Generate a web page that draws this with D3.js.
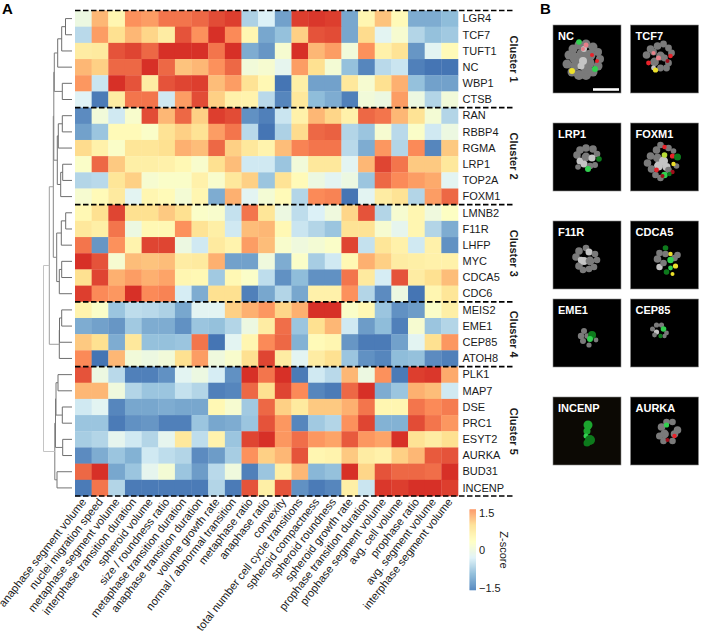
<!DOCTYPE html>
<html>
<head>
<meta charset="utf-8">
<script src="https://cdn.jsdelivr.net/npm/d3@7"></script>
<style>
  html, body { margin: 0; padding: 0; background: #fff; }
  text { font-family: "Liberation Sans", Arial, sans-serif; fill: #1a1a1a; }
</style>
</head>
<body>
<div id="chart"></div>
<script>
const geneLabels = ["LGR4","TCF7","TUFT1","NC","WBP1","CTSB","RAN","RBBP4","RGMA","LRP1","TOP2A","FOXM1",
  "LMNB2","F11R","LHFP","MYC","CDCA5","CDC6","MEIS2","EME1","CEP85","ATOH8",
  "PLK1","MAP7","DSE","PRC1","ESYT2","AURKA","BUD31","INCENP"];

const featureLabels = ["anaphase segment volume","nuclei migration speed","metaphase segment volume",
  "interphase transition duration","spheroid volume","size / roundness ratio","metaphase transition duration",
  "anaphase transition duration","volume growth rate","normal / abnormal transition","metaphase ratio",
  "anaphase ratio","convexity","total number cell cycle transitions","spheroid compactness","spheroid roundness",
  "spheroid growth rate","prophase transition duration","prophase segment volume","avg. cell volume",
  "prophase ratio","avg. segment volume","interphase segment volume"];

const clusterNames = ["Cluster 1","Cluster 2","Cluster 3","Cluster 4","Cluster 5"];
const clusterSizes = [6, 6, 6, 4, 8];

const cluster1Values = [
  [-0.4,1.0,0.2,1.3,1.2,1.5,1.5,1.6,1.8,1.9,-1.1,-0.7,-1.6,1.9,1.95,1.9,-1.55,0.2,0.9,0.1,-1.5,-1.5,-1.35],
  [-1.0,1.2,0.65,1.0,0.75,0.4,1.75,1.3,2.0,1.35,0.2,-1.55,-1.3,0.8,1.75,1.8,-1.55,0.7,-0.6,-0.2,-1.05,-1.3,-1.2],
  [0.4,0.45,1.75,1.85,1.6,2.0,2.0,2.0,1.5,2.0,-1.5,-1.7,-0.2,2.0,1.0,1.2,-0.3,1.3,0.3,0.6,-1.7,-0.6,0.1],
  [1.0,0.8,1.6,1.6,2.0,1.6,0.9,1.0,1.3,1.6,-0.3,-0.2,-0.55,1.2,0.65,-0.25,-1.3,-1.85,-1.0,-0.85,-1.9,-2.0,-2.0],
  [1.25,-0.85,2.0,1.75,0.4,1.75,1.85,1.9,0.95,1.2,0.6,0.15,-2.0,0.35,-1.6,-1.6,0.5,-0.2,0.65,1.05,-1.3,-1.6,-1.6],
  [-0.65,-1.95,0.4,1.5,1.5,-0.8,1.2,1.8,0.8,0.3,0.25,-1.0,-1.85,0.5,-1.35,-1.5,-1.9,-0.3,-0.4,1.2,-0.4,-1.05,-0.3]
];
const cluster2Values = [
  [-1.8,-0.3,-0.8,-0.15,1.8,1.0,1.6,0.8,1.9,1.8,-1.75,-1.9,-0.85,0.3,1.0,0.75,0.3,1.6,1.5,1.0,0.6,-0.25,-1.05],
  [-1.6,-1.25,0.1,0.1,-0.1,0.6,0.8,0.6,1.2,1.5,-1.0,-2.0,-1.1,0.7,1.6,1.65,-1.05,-1.25,-0.2,-1.0,-0.1,-0.8,-0.4],
  [0.7,0.3,-0.1,0.55,0.55,0.65,1.05,0.95,1.6,0.8,0.5,0.25,0.95,1.4,1.5,1.5,-1.0,-1.5,1.25,-1.05,1.35,-1.85,0.85],
  [-0.1,1.6,0.85,0.35,0.35,0.3,0.15,-0.15,0.65,0.95,-0.8,-0.8,-1.25,-0.3,0.5,0.5,-0.6,1.0,1.85,1.5,0.85,0.85,0.5],
  [-1.05,-1.0,0.55,0.8,-0.2,-0.1,-0.1,0.3,-0.15,0.5,0.8,-1.25,0.6,0.1,-0.4,-0.6,-0.4,-1.25,1.6,1.35,1.2,1.1,-0.6],
  [-0.2,0.1,0.45,-0.6,0.2,0.1,-0.25,0.2,-1.5,1.05,-0.6,-0.25,0.1,-1.05,1.35,1.4,-2.0,-0.6,0.4,0.6,-1.05,1.2,1.6]
];
const cluster3Values = [
  [0.15,0.65,1.85,0.65,0.65,0.85,0.65,-0.1,-0.15,-0.9,1.5,0.55,-0.4,-0.95,-0.7,-0.35,0.75,1.75,-1.05,-0.2,0.2,-0.35,-0.05],
  [0.5,0.35,1.5,-0.4,0.15,0.15,1.3,0.6,0.35,-0.8,0.95,1.0,0.15,-0.85,-1.05,-1.25,0.6,0.6,-0.2,-0.55,0.2,-1.05,-1.5],
  [1.5,-1.7,1.3,0.25,1.85,1.85,-0.4,-0.8,0.45,0.25,1.2,0.95,-0.15,-0.35,-0.25,-0.1,1.85,-0.9,0.55,0.3,-0.8,0.3,-1.75],
  [2.0,1.75,-0.2,0.95,0.9,0.95,0.4,0.45,1.05,-1.6,-1.6,-0.35,-1.5,-0.1,-1.15,-0.8,0.15,1.05,0.8,0.4,0.35,0.3,0.3],
  [0.65,1.85,1.05,1.2,1.05,1.15,0.2,0.15,-1.2,0.15,-0.1,-0.95,-1.75,-1.35,-1.75,-1.75,1.5,0.45,-0.75,1.75,0.4,0.65,0.95],
  [1.9,1.35,1.25,2.0,1.35,1.4,-0.75,-1.5,0.65,0.65,-1.9,-1.55,-1.05,-1.55,0.3,0.3,1.3,-1.05,-1.8,-0.4,-2.0,0.2,0.55]
];
const cluster4Values = [
  [0.25,-0.1,-1.25,-0.95,-1.0,-1.1,-1.55,-0.6,-0.6,0.8,1.05,1.25,0.75,1.05,2.0,2.0,-0.1,0.15,-1.25,-1.75,-1.65,-0.1,0.35],
  [-1.5,-1.6,-1.7,-1.2,-1.5,-1.5,-1.75,-1.25,-1.3,-1.05,-0.4,0.4,1.55,-1.25,0.65,1.0,-0.8,-1.65,-1.35,-1.9,-0.2,-1.25,-1.05],
  [0.85,0.65,-1.5,0.5,-1.3,-1.3,-1.25,1.5,-2.0,-0.6,0.2,1.35,1.6,-1.45,0.1,0.2,-1.7,-1.95,-1.95,-1.6,-0.6,0.65,1.25],
  [1.35,-2.0,1.0,-0.3,-0.4,-0.3,0.65,1.2,-0.35,-0.15,0.65,1.85,0.4,-0.6,0.4,0.65,-1.25,-1.75,-1.85,-1.35,-1.3,-1.8,-1.9]
];
const cluster5Values = [
  [1.75,-0.4,-1.0,-1.9,-1.9,-1.75,-0.6,-0.4,-0.75,-1.75,2.0,1.5,2.0,-1.95,-0.8,-1.0,1.0,-0.4,1.3,-1.95,1.9,1.95,1.1],
  [1.0,1.0,-0.35,-1.05,-1.25,-1.25,-0.9,-1.05,-1.9,-1.85,1.6,0.65,1.85,1.35,-1.85,-1.95,1.6,2.0,-1.5,-1.25,1.05,0.95,-0.8],
  [-0.8,-0.6,-1.85,-1.55,-1.55,-1.5,-1.55,-1.55,0.15,-0.2,-1.2,1.6,0.8,0.45,0.85,0.85,1.05,1.5,0.2,0.2,1.5,1.35,1.45],
  [-1.25,-1.25,-1.95,-1.75,-1.7,-1.9,-1.9,-1.25,-1.55,-1.5,-1.25,1.75,1.25,-1.85,-1.2,-1.05,1.3,1.85,-1.45,-1.45,1.8,1.5,1.25],
  [-1.15,-1.05,-0.55,-0.8,-1.05,-0.55,0.5,-0.95,0.25,-1.25,1.85,2.0,1.25,1.55,1.25,1.15,1.7,1.25,1.15,2.0,0.6,0.4,0.65],
  [-1.8,-1.5,-1.25,-1.45,-0.8,-0.95,-1.05,-1.8,-1.65,-1.15,1.3,0.8,1.0,1.75,0.2,0.25,0.85,0.4,0.3,0.8,1.0,1.7,1.75],
  [1.6,2.0,-1.55,-1.25,-0.55,-0.25,-1.25,-1.65,-1.0,-0.35,-1.9,-1.25,0.35,1.0,-1.4,-1.3,2.0,0.75,1.75,1.6,1.6,1.55,2.0],
  [-1.95,1.5,-1.05,-1.95,-1.95,-1.95,-1.95,-1.95,-1.05,-1.95,1.75,0.35,1.75,-1.75,-1.95,-1.85,0.35,-0.85,1.95,1.9,2.0,2.0,1.9]
];
const heatValues = [...cluster1Values, ...cluster2Values, ...cluster3Values, ...cluster4Values, ...cluster5Values];

// dendrogram merges: [merge height, left, right], numbers are row indexes
const dendroC1 = [17.7, [14.3, [10.3, [6.5, 0, 1], 2], 3], [9.7, 4, 5]];
const dendroC2 = [14.7, [13.7, [9.7, 6, 7], 8], [11.3, [9.3, 9, 10], 11]];
const dendroC3 = [15.3, [10.7, [6.3, 12, 13], 14], [12.7, [10.3, 15, 16], 17]];
const dendroC4 = [12.7, [12.5, [10.3, 18, 19], 20], 21];
const dendroC5 = [17.2, [16.5, [16, [14, 22, 23], [9.7, 24, 25]], [9.3, 26, 27]], [15, 28, 29]];
const dendroTree = [28.5, [22.7, [18.7, [18.2, dendroC1, dendroC2], dendroC3], dendroC4], dendroC5];

const colorStops = ["#4575b4","#91bfdb","#e0f3f8","#ffffbf","#fee090","#fc8d59","#d73027"];
const colorDomain = [-2, -1.33, -0.67, 0, 0.67, 1.33, 2];
const legendStops = ["#5a8cc2","#91bfdb","#e0f3f8","#ffffbf","#fee090","#fc8d59"];
const legendTicks = [-1.5, 0, 1.5];

const panelNames = ["NC","TCF7","LRP1","FOXM1","F11R","CDCA5","EME1","CEP85","INCENP","AURKA"];
const panelColumn = [0, 1, 0, 1, 0, 1, 0, 1, 0, 1];
const panelTop = [25, 25, 123, 123, 221, 221, 299, 299, 397, 397];

// nuclei: [x, y, radius, kind]
const nucleiNC = [[16,30,4.5,"g"],[20,24,4.5,"g"],[26,20,4.5,"g"],[33,19,4.5,"g"],[40,22,4.5,"g"],[45,27,4,"g"],[47,34,4,"g"],[45,41,4.5,"g"],[40,47,4.5,"g"],[33,50,5,"g"],[26,50,5,"g"],[19,47,4.5,"g"],[14,39,4.5,"g"],[22,33,5.5,"g"],[29,29,5.5,"g"],[37,30,5.5,"g"],[36,38,5.5,"g"],[28,38,5.5,"g"],[22,41,5,"g"],[33,44,5,"g"],[30,36,4,"w"],[28,41,3.5,"w"],[31,24,3,"w"],[26,17,2.8,"G"],[33,20,2.5,"p"],[39,30,2,"r"],[44,36,2,"r"],[42,44,3,"G"],[19,46,3,"y"],[30,24,2,"p"]];
const nucleiTCF7 = [[16,30,3.8,"g"],[20,24,3.8,"g"],[27,21,3.8,"g"],[33,19,3.4,"g"],[38,23,3.4,"g"],[41,28,3.4,"g"],[38,38,3.4,"g"],[36,43,3.4,"g"],[30,43,3.4,"g"],[24,37,4.4,"g"],[30,31,4.4,"g"],[23,27,3.4,"g"],[34,33,3.4,"g"],[18,38,2.4,"r"],[40,31,2.3,"r"],[23,28,2,"p"],[28,33,2.5,"p"],[37,36,2,"d"],[23,43,2.4,"w"],[25,45,2.6,"y"]];
const nucleiLRP1 = [[24,32,3.8,"g"],[27,27,3.8,"g"],[33,25,3.8,"g"],[40,26,3.8,"g"],[44,31,3.3,"g"],[27,38,3.5,"w"],[33,34,4.4,"g"],[39,35,3.5,"w"],[31,41,3.5,"w"],[25,44,2.8,"g"],[42,42,3,"g"],[37,43,3.3,"g"],[35,46,3,"G"],[46,36,2.8,"D"]];
const nucleiFOXM1 = [[17,40,3.8,"g"],[20,33,3.8,"g"],[26,27,3.8,"g"],[30,22,3.3,"g"],[38,25,3.3,"g"],[43,28,2.8,"g"],[27,35,4.4,"g"],[33,38,4.5,"w"],[28,43,4.5,"w"],[36,44,4,"w"],[21,46,3.8,"g"],[25,52,3.3,"g"],[30,55,3.3,"g"],[38,47,3.3,"g"],[46,43,2.8,"g"],[34,24,2.2,"r"],[42,33,2.6,"r"],[26,47,2.4,"r"],[42,49,2.2,"d"],[47,34,3.5,"D"],[34,52,3.2,"G"],[39,51,2.2,"D"],[34,32,2.8,"Y"],[43,41,2.2,"y"],[32,53,2,"d"]];
const nucleiF11R = [[23,36,3.8,"g"],[26,30,3.8,"g"],[33,27,3.3,"g"],[36,31,3.5,"w"],[42,33,3.3,"g"],[44,39,3.3,"g"],[41,46,3.3,"g"],[36,48,3.3,"g"],[30,49,3.3,"g"],[26,45,3.8,"g"],[31,40,4,"w"],[28,39,3.2,"w"],[37,40,4.4,"g"]];
const nucleiCDCA5 = [[27,38,3.8,"g"],[29,32,3.3,"g"],[29,46,3.2,"w"],[33,42,3.3,"g"],[35,33,3.3,"g"],[47,34,3.3,"g"],[44,37,3.3,"g"],[35,27,2.8,"D"],[40,39,3.2,"G"],[40,33,2.2,"y"],[45,45,2.6,"y"],[42,53,2,"y"],[36,51,2.8,"D"],[40,47,2.4,"G"]];
const nucleiEME1 = [[31,32,3,"g"],[28,37,3.2,"g"],[30,42,3,"g"],[34,37,2.7,"g"],[36,46,2.6,"g"],[43,41,2.4,"g"],[39,36,4,"D"],[37,40,3,"G"]];
const nucleiCEP85 = [[26,26,2.6,"g"],[22,30,2.5,"g"],[26,33,2.6,"w"],[31,26,2.6,"g"],[36,34,2.4,"g"],[24,36,2.4,"g"],[34,37,2.2,"g"],[33,30,2.8,"G"],[30,37,2.2,"D"]];
const nucleiINCENP = [[35,28,4.5,"M"],[34,34,3.5,"M"],[33,39,2.5,"G"],[37,43,5,"D"],[34,46,3.5,"D"]];
const nucleiAURKA = [[31,30,3.8,"g"],[36,25,3.3,"g"],[42,25,3.3,"g"],[47,33,3.8,"g"],[44,37,3.8,"g"],[34,37,4.4,"g"],[29,39,3.5,"g"],[33,44,3.3,"g"],[42,44,3.3,"g"],[36,28,2.6,"G"],[44,39,2.2,"r"],[37,43,2,"d"]];
const panelNuclei = [nucleiNC, nucleiTCF7, nucleiLRP1, nucleiFOXM1, nucleiF11R, nucleiCDCA5, nucleiEME1, nucleiCEP85, nucleiINCENP, nucleiAURKA];
const nucleusKinds = ["g","w","G","M","D","r","p","d","y","Y"];
const nucleusColors = ["#7a7a7a","#c4c4c4","#30d050","#1fa52f","#0f7a1c","#e8222a","#e8808a","#a0101a","#ece02c","#b6dc34"];

const width = 701, height = 634;
const svg = d3.select("#chart").append("svg")
  .attr("width", width)
  .attr("height", height)
  .style("display", "block");

const defs = svg.append("defs");
defs.append("filter").attr("id", "soft")
  .append("feGaussianBlur").attr("stdDeviation", 0.6);

const x = d3.scaleBand().domain(d3.range(featureLabels.length)).range([75, 458]);
const y = d3.scaleBand().domain(d3.range(geneLabels.length)).range([10.5, 496]);
const color = d3.scaleLinear().domain(colorDomain).range(colorStops).clamp(true);

// heatmap
const rows = svg.append("g").selectAll("g")
  .data(heatValues)
  .enter()
  .append("g")
  .attr("transform", (d, i) => `translate(0,${y(i)})`);

rows.selectAll("rect")
  .data(d => d)
  .enter()
  .append("rect")
  .attr("x", (d, i) => x(i))
  .attr("width", x.bandwidth() + 0.3)
  .attr("height", y.bandwidth() + 0.3)
  .attr("fill", d => color(d));

// gene labels
svg.append("g")
  .attr("transform", "translate(458,0)")
  .call(d3.axisRight(y).tickSize(0).tickPadding(4.5).tickFormat(i => geneLabels[i]))
  .call(g => g.select(".domain").remove())
  .selectAll("text")
  .attr("dy", "0.34em")
  .style("font-size", "11px")
  .style("font-family", '"Liberation Sans", Arial, sans-serif')
  .style("fill", "#1a1a1a");

// feature labels
svg.append("g").selectAll("text")
  .data(featureLabels)
  .enter()
  .append("text")
  .attr("transform", (d, i) => `translate(${x(i) + x.bandwidth() / 2 + 3.5},502) rotate(-52)`)
  .attr("text-anchor", "end")
  .style("font-size", "11.2px")
  .text(d => d);

// cluster separators and labels
const clusterStarts = d3.cumsum([0, ...clusterSizes]);
svg.append("g").selectAll("line")
  .data(clusterStarts)
  .enter()
  .append("line")
  .attr("x1", 75)
  .attr("x2", 515)
  .attr("y1", d => d === geneLabels.length ? y.range()[1] : y(d))
  .attr("y2", d => d === geneLabels.length ? y.range()[1] : y(d))
  .attr("stroke", "#000")
  .attr("stroke-width", 1.7)
  .attr("stroke-dasharray", "5.5 2.5");

svg.append("g").selectAll("text")
  .data(clusterNames)
  .enter()
  .append("text")
  .attr("transform", (d, i) => {
    const mid = y(clusterStarts[i]) + clusterSizes[i] * y.bandwidth() / 2;
    return `translate(510,${mid}) rotate(90)`;
  })
  .attr("text-anchor", "middle")
  .style("font-size", "11px")
  .style("font-weight", "bold")
  .text(d => d);

// dendrogram
const treeX = d3.scaleLinear().domain([0, 28.5]).range([72, 43.5]);
const treeColor = d3.scaleLinear().domain([14, 18, 28.5]).range(["#6e6e6e", "#808080", "#c4c4c4"]).clamp(true);
const treeG = svg.append("g").attr("fill", "none").attr("stroke-width", 1);

function drawNode(node) {
  if (typeof node === "number") return { h: 0, pos: y(node) + y.bandwidth() / 2 };
  const a = drawNode(node[1]);
  const b = drawNode(node[2]);
  const h = node[0];
  const path = d3.path();
  path.moveTo(treeX(a.h), a.pos);
  path.lineTo(treeX(h), a.pos);
  path.lineTo(treeX(h), b.pos);
  path.lineTo(treeX(b.h), b.pos);
  treeG.append("path").attr("d", path.toString()).attr("stroke", treeColor(h));
  return { h: h, pos: (a.pos + b.pos) / 2 };
}
drawNode(dendroTree);

// colour legend
const legendY = d3.scaleLinear().domain([-1.5, 1.5]).range([588, 512.7]);
const legendColor = d3.scaleLinear()
  .domain(legendStops.map((d, i) => i / (legendStops.length - 1)))
  .range(legendStops);
svg.append("g").selectAll("rect")
  .data(d3.range(0, 1, 1 / 81))
  .enter()
  .append("rect")
  .attr("x", 469.5)
  .attr("y", d => 590 - (d + 1 / 81) * 80.7)
  .attr("width", 6.5)
  .attr("height", 80.7 / 81 + 0.3)
  .attr("fill", d => legendColor(d));

svg.append("g")
  .attr("transform", "translate(476,0)")
  .call(d3.axisRight(legendY).tickValues(legendTicks).tickSize(0).tickPadding(3).tickFormat(d => d === 0 ? "0" : d3.format(".1f")(d)))
  .call(g => g.select(".domain").remove())
  .selectAll("text")
  .style("font-size", "11px")
  .style("font-family", '"Liberation Sans", Arial, sans-serif')
  .style("fill", "#1a1a1a");

svg.append("text")
  .attr("transform", "translate(500,550) rotate(90)")
  .attr("text-anchor", "middle")
  .style("font-size", "11px")
  .text("Z-score");

// panel letters
svg.append("text").attr("x", 2).attr("y", 14).style("font-size", "15px").style("font-weight", "bold").style("fill", "#000").text("A");
svg.append("text").attr("x", 540).attr("y", 13.5).style("font-size", "15px").style("font-weight", "bold").style("fill", "#000").text("B");

// micrograph panels
const panelSize = 68;
const panelX = d3.scaleLinear().domain([0, 1]).range([553, 630.5]);
const panelScale = d3.scaleLinear().domain([0, panelSize]).range([0, panelSize]);
const nucleusColor = d3.scaleOrdinal(nucleusKinds, nucleusColors);

const panels = svg.append("g").selectAll("g")
  .data(panelNames)
  .enter()
  .append("g")
  .attr("transform", (d, i) => `translate(${panelX(panelColumn[i])},${panelTop[i]})`);

panels.append("rect")
  .attr("width", panelSize)
  .attr("height", panelSize)
  .attr("fill", d => d === "INCENP" ? "#0c0904" : "#000")
  .attr("stroke", "#8a8a8a")
  .attr("stroke-width", 0.6);

panels.append("g")
  .attr("filter", "url(#soft)")
  .selectAll("circle")
  .data((d, i) => panelNuclei[i])
  .enter()
  .append("circle")
  .attr("cx", d => panelScale(d[0]))
  .attr("cy", d => panelScale(d[1]))
  .attr("r", d => panelScale(d[2]))
  .attr("fill", d => nucleusColor(d[3]));

panels.append("text")
  .attr("x", 5)
  .attr("y", 15)
  .style("font-size", "11px")
  .style("font-weight", "bold")
  .style("fill", "#fff")
  .text(d => d);

// scale bar in the first panel
panels.filter(d => d === "NC").append("line")
  .attr("x1", panelScale(40))
  .attr("x2", panelScale(66))
  .attr("y1", panelScale(64.5))
  .attr("y2", panelScale(64.5))
  .attr("stroke", "#fff")
  .attr("stroke-width", 2.6);
</script>
</body>
</html>
